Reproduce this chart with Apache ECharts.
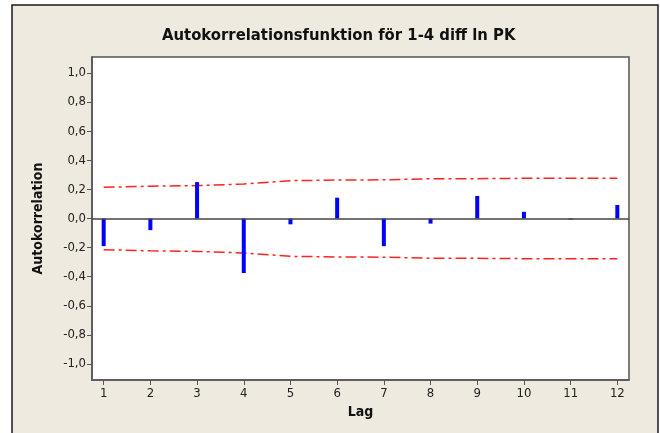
<!DOCTYPE html>
<html>
<head>
<meta charset="utf-8">
<script src="https://cdn.jsdelivr.net/npm/echarts@6/dist/echarts.min.js"></script>
<style>
  html, body { margin: 0; padding: 0; background: #ffffff; }
  #acf { width: 660px; height: 433px; }
</style>
</head>
<body>
<div id="acf"></div>
<script>
// autokorrelation per lag
const lags = [1, 2, 3, 4, 5, 6, 7, 8, 9, 10, 11, 12]
const acfValues = [-0.19, -0.08, 0.25, -0.375, -0.04, 0.143, -0.19, -0.035, 0.155, 0.046, -0.007, 0.093]
const upperLimit = [0.214, 0.222, 0.226, 0.237, 0.26, 0.264, 0.266, 0.273, 0.274, 0.276, 0.276, 0.276]
const lowerLimit = [-0.214, -0.222, -0.226, -0.237, -0.26, -0.264, -0.266, -0.273, -0.274, -0.276, -0.276, -0.276]
const yTicks = [-1.0, -0.8, -0.6, -0.4, -0.2, 0.0, 0.2, 0.4, 0.6, 0.8, 1.0]

const font = 'DejaVu Sans Condensed, DejaVu Sans, sans-serif'
const pair = (arr) => lags.map((l, i) => [l, arr[i]])
const limitLine = {
    type: 'line',
    symbol: 'none',
    silent: true,
    lineStyle: { color: '#ff2222', width: 1.5, type: [11, 4, 3, 4] },
    z: 3
}

let chart = echarts.init(document.getElementById('acf'))
let option = {
    backgroundColor: '#ffffff',
    animation: false,
    graphic: [{
        type: 'rect',
        shape: { x: 12, y: 5, width: 646, height: 440 },
        style: { fill: '#eeeae0', stroke: '#1a1a1a', lineWidth: 1.5 },
        z: -10
    }],
    title: {
        text: 'Autokorrelationsfunktion för 1-4 diff ln PK',
        left: 157,
        top: 22,
        textStyle: { fontFamily: font, fontSize: 16.5, fontWeight: 'bold', color: '#111' }
    },
    grid: {
        left: 92, top: 57, right: 31, bottom: 53,
        show: true,
        backgroundColor: '#ffffff',
        borderColor: '#555555',
        borderWidth: 1.5
    },
    xAxis: {
        type: 'value',
        min: 0.75,
        max: 12.25,
        name: 'Lag',
        nameLocation: 'middle',
        nameGap: 25,
        nameTextStyle: { fontFamily: font, fontSize: 14, fontWeight: 'bold', color: '#111' },
        axisLine: { onZero: false, lineStyle: { color: '#555', width: 1.5 } },
        axisTick: { show: true, length: 5, customValues: lags, lineStyle: { color: '#555' } },
        axisLabel: { customValues: lags, fontFamily: font, fontSize: 13, color: '#222', margin: 7 },
        splitLine: { show: false }
    },
    yAxis: {
        type: 'value',
        min: -1.11,
        max: 1.11,
        name: 'Autokorrelation',
        nameLocation: 'middle',
        nameGap: 47,
        nameTextStyle: { fontFamily: font, fontSize: 14, fontWeight: 'bold', color: '#111' },
        axisLine: { show: true, lineStyle: { color: '#555', width: 1.5 } },
        axisTick: { show: true, length: 5, customValues: yTicks, lineStyle: { color: '#555' } },
        axisLabel: {
            customValues: yTicks,
            fontFamily: font, fontSize: 13, color: '#222', margin: 6,
            formatter: v => v.toFixed(1).replace('.', ',')
        },
        splitLine: { show: false }
    },
    series: [
        {
            type: 'bar',
            data: pair(acfValues),
            barWidth: 4,
            itemStyle: { color: '#0000ff' },
            z: 4,
            markLine: {
                silent: true,
                symbol: 'none',
                label: { show: false },
                lineStyle: { color: '#444', width: 1.5, type: 'solid' },
                data: [{ yAxis: 0 }]
            }
        },
        Object.assign({ data: pair(upperLimit) }, limitLine),
        Object.assign({ data: pair(lowerLimit) }, limitLine)
    ]
}
chart.setOption(option)
</script>
</body>
</html>
